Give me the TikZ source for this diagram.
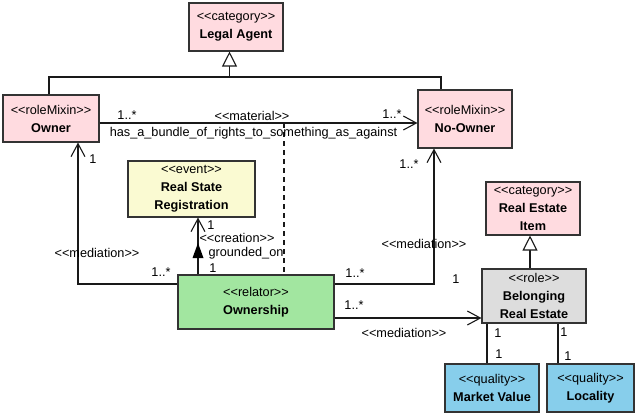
\documentclass[tikz,border=0pt]{standalone}
\usepackage{fontspec}
\setmainfont{Liberation Sans}
\usetikzlibrary{arrows.meta}

\definecolor{catpink}{RGB}{255,219,224}
\definecolor{evyellow}{RGB}{250,250,210}
\definecolor{relgreen}{RGB}{162,230,160}
\definecolor{rolegray}{RGB}{221,221,221}
\definecolor{qualblue}{RGB}{135,206,235}

% stereotype text: kerns keep << and >> from turning into guillemets
\newcommand{\stereo}[1]{<\kern0pt<#1>\kern0pt>}

\begin{document}
\begin{tikzpicture}[x=1pt,y=-1pt,
  every node/.style={font=\fontsize{12.7}{18}\selectfont},
  cls/.style={draw=black!80, line width=1.1pt, rectangle, inner sep=0pt, align=center},
  lbl/.style={inner sep=0pt, anchor=center},
  conn/.style={line width=1.1pt, draw=black!90},
  assoc/.style={conn, -{Straight Barb[length=13pt,width=14pt,line width=1.1pt]}},
  gen/.style={conn, -{Triangle[open,length=15pt,width=15pt,line width=1.1pt,fill=white]}},
  dashline/.style={conn, dash pattern=on 5pt off 4pt}
]
\useasboundingbox (0,0) rectangle (636,413);

% classes
\node[cls, fill=catpink, minimum width=94pt, minimum height=48pt] (legal) at (236,27)
  {\stereo{category}\\\textbf{Legal Agent}};
\node[cls, fill=catpink, minimum width=96pt, minimum height=47pt] (owner) at (51,118.5)
  {\stereo{roleMixin}\\\textbf{Owner}};
\node[cls, fill=catpink, minimum width=94pt, minimum height=58pt] (noowner) at (465,119)
  {\stereo{roleMixin}\\\textbf{No-Owner}};
\node[cls, fill=evyellow, minimum width=127pt, minimum height=56pt] (reg) at (191.5,189)
  {\stereo{event}\\\textbf{Real State}\\\textbf{Registration}};
\node[cls, fill=relgreen, minimum width=156pt, minimum height=54pt] (ownership) at (256,302)
  {\stereo{relator}\\\textbf{Ownership}};
\node[cls, fill=catpink, minimum width=94pt, minimum height=53pt] (rei) at (533,208.5)
  {\stereo{category}\\\textbf{Real Estate}\\\textbf{Item}};
\node[cls, fill=rolegray, minimum width=104pt, minimum height=54pt] (belong) at (534,296)
  {\stereo{role}\\\textbf{Belonging}\\\textbf{Real Estate}};
\node[cls, fill=qualblue, minimum width=94pt, minimum height=48pt] (market) at (492,388)
  {\stereo{quality}\\\textbf{Market Value}};
\node[cls, fill=qualblue, minimum width=87pt, minimum height=48pt] (locality) at (590.5,388)
  {\stereo{quality}\\\textbf{Locality}};

% generalization of the two role mixins
\coordinate (gj) at (229.5,77);
\draw[conn] ([xshift=-2pt]owner.north) |- (gj) -| ([xshift=-24pt]noowner.north);
\draw[gen] (gj) -- (gj |- legal.south);

% material relation
\coordinate (matY) at (0,123);
\draw[assoc] (owner.east |- matY) -- (noowner.west |- matY);
\coordinate (matD) at (284,123);
\draw[dashline] (matD) -- (matD |- ownership.north);

% mediations
\coordinate (omL) at (78,284);
\draw[assoc] (ownership.west |- omL) -| (owner.south -| omL);
\coordinate (nmR) at (434,284);
\draw[assoc] (ownership.east |- nmR) -| (noowner.south -| nmR);
\coordinate (bmY) at (0,318);
\draw[assoc] (ownership.east |- bmY) -- (belong.west |- bmY);

% creation
\coordinate (crX) at (198,0);
\draw[assoc] (ownership.north -| crX) -- (reg.south -| crX);
\fill[black] (198,243) -- (192.5,258) -- (203.5,258) -- cycle;

% role specialization
\draw[gen] ([xshift=-4pt]belong.north) -- ([xshift=-4pt]belong.north |- rei.south);

% qualities
\coordinate (q1) at (487,0);
\draw[conn] (belong.south -| q1) -- (market.north -| q1);
\coordinate (q2) at (558,0);
\draw[conn] (belong.south -| q2) -- (locality.north -| q2);

% labels
\node[lbl] (l1) at (127,115) {1..*};
\node[lbl] (l2) at (252,116) {\stereo{material}};
\node[lbl] (l3) at (253.5,133) {has\_a\_bundle\_of\_rights\_to\_something\_as\_against};
\node[lbl] (l4) at (392,114) {1..*};
\node[lbl] (l5) at (93,159) {1};
\node[lbl] (l6) at (97,253) {\stereo{mediation}};
\node[lbl] (l7) at (161,272) {1..*};
\node[lbl] (l8) at (211,225) {1};
\node[lbl] (l9) at (237,237.5) {\stereo{creation}};
\node[lbl] (l10) at (246,253) {grounded\_on};
\node[lbl] (l11) at (213,268) {1};
\node[lbl] (l12) at (409,164) {1..*};
\node[lbl] (l13) at (424,244) {\stereo{mediation}};
\node[lbl] (l14) at (355,273) {1..*};
\node[lbl] (l15) at (456,279) {1};
\node[lbl] (l16) at (354,305) {1..*};
\node[lbl] (l17) at (404,333) {\stereo{mediation}};
\node[lbl] (l18) at (498,333) {1};
\node[lbl] (l19) at (499,354) {1};
\node[lbl] (l20) at (564,332) {1};
\node[lbl] (l21) at (568,356) {1};
\end{tikzpicture}
\end{document}
